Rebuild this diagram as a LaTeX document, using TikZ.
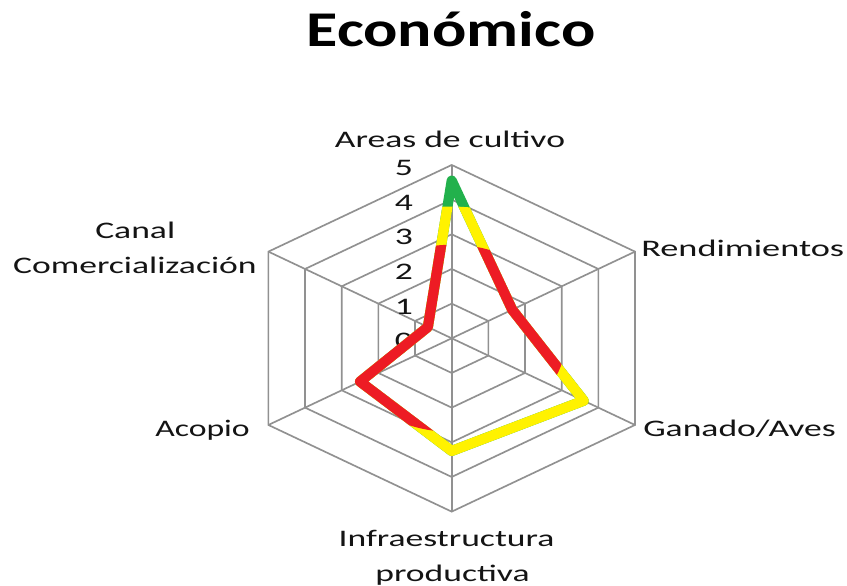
\documentclass[tikz,border=0pt]{standalone}
\usepackage{fontspec}
\setmainfont{Carlito}
\usetikzlibrary{calc}
\definecolor{dred}{RGB}{237,28,36}
\definecolor{dyel}{RGB}{255,242,0}
\definecolor{dgrn}{RGB}{34,177,76}
\definecolor{gridc}{RGB}{145,145,145}
\definecolor{txtc}{RGB}{20,20,20}
\begin{document}
\begin{tikzpicture}[x=0.75pt,y=0.75pt,
  lbl/.style={inner sep=0pt, text=txtc, font=\fontsize{17.8pt}{20pt}\selectfont},
  gridline/.style={draw=gridc, line width=1.25pt, line join=miter},
  dataline/.style={line width=7.6pt, line join=round, line cap=round}]
\useasboundingbox (0,0) rectangle (847,586);
\node[anchor=base, inner sep=0pt, font=\bfseries\fontsize{37.5pt}{40pt}\selectfont] (title) at (451,539.3) {\scalebox{1.28}[1]{Económico}};
% chart grid
\begin{scope}[shift={(451.7,247.7)}, x=31.75pt, y=26pt]
  \foreach \rr in {1,...,5}
    \draw[gridline] (90:\rr) -- (30:\rr) -- (-30:\rr) -- (-90:\rr) -- (210:\rr) -- (150:\rr) -- cycle;
  \foreach \aa in {90,30,-30,-90,210,150}
    \draw[gridline] (0,0) -- (\aa:5);
\end{scope}
% axis numbers
\foreach \k in {0,...,5}
  \node[lbl, anchor=east] (d\k) at (413.3, 247.7+34.66*\k-3) {\scalebox{1.5}[1]{\k}};
% data
\begin{scope}[shift={(451.7,247.7)}, x=31.75pt, y=26pt]
  \coordinate (p1) at (90:4.55);
  \coordinate (p2) at (30:1.65);
  \coordinate (p3) at (-30:3.6);
  \coordinate (p4) at (-90:3.25);
  \coordinate (p5) at (210:2.5);
  \coordinate (p6) at (150:0.65);
  \draw[dataline, dgrn] (p1) -- (p2) -- (p3) -- (p4) -- (p5) -- (p6) -- cycle;
  \begin{scope}
    \clip plot[variable=\t, domain=0:360, samples=121] (\t:3.8) -- cycle;
    \draw[dataline, dyel] (p1) -- (p2) -- (p3) -- (p4) -- (p5) -- (p6) -- cycle;
  \end{scope}
  \begin{scope}
    \clip plot[variable=\t, domain=0:360, samples=121] (\t:2.7) -- cycle;
    \draw[dataline, dred] (p1) -- (p2) -- (p3) -- (p4) -- (p5) -- (p6) -- cycle;
  \end{scope}
\end{scope}
% labels
\node[lbl, anchor=base] (areas) at (450,438) {\scalebox{1.5}[1]{Areas de cultivo}};
\node[lbl, anchor=base west] (rend) at (641,329.3) {\scalebox{1.53}[1]{Rendimientos}};
\node[lbl, anchor=base west] (gan) at (643,149.3) {\scalebox{1.5}[1]{Ganado/Aves}};
\node[lbl, anchor=base east] (acop) at (250,149.3) {\scalebox{1.42}[1]{Acopio}};
\node[lbl, anchor=base] (infra) at (446.5,39.3) {\scalebox{1.5}[1]{Infraestructura}};
\node[lbl, anchor=base] (prod) at (452.5,4.3) {\scalebox{1.5}[1]{productiva}};
\node[lbl, anchor=base west] (canal) at (95,347.7) {\scalebox{1.5}[1]{Canal}};
\node[lbl, anchor=base east] (comer) at (257,312.7) {\scalebox{1.5}[1]{Comercialización}};
\end{tikzpicture}
\end{document}
